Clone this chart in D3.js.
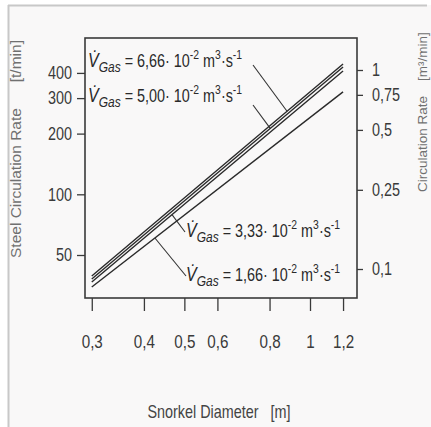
<!DOCTYPE html>
<html><head><meta charset="utf-8">
<script src="https://cdn.jsdelivr.net/npm/d3@7"></script>
<style>body{margin:0;background:#fff} text{white-space:pre}</style>
</head><body>
<script>
// ---- data ----
const diameters = [0.3, 1.2];
const rate666 = [39.3, 443];
const rate500 = [38.0, 428];
const rate333 = [36.7, 409];
const rate166 = [34.7, 322];
const gasLabels = ["6,66", "5,00", "3,33", "1,66"];
const pointerDiameters = [0.881, 0.803, 0.467, 0.425];
const xTicks = [0.3, 0.4, 0.5, 0.6, 0.8, 1, 1.2];
const xTickLabels = ["0,3", "0,4", "0,5", "0,6", "0,8", "1", "1,2"];
const yLeftTicks = [50, 100, 200, 300, 400];
const yRightTicks = [0.1, 0.25, 0.5, 0.75, 1];
const yRightTickLabels = ["0,1", "0,25", "0,5", "0,75", "1"];

const series = [rate666, rate500, rate333, rate166];

const W = 431, H = 427;
const L = 85, R = 357, T = 38, B = 298;
const SX = 0.8; // horizontal condensing of the narrow lettering
const font = "'Liberation Sans',Arial,sans-serif";
const svg = d3.select("body").append("svg").attr("width", W).attr("height", H)
  .style("display", "block");

svg.append("rect").attr("width", W).attr("height", H).attr("fill", "#fff");
svg.append("rect").attr("x", 8).attr("y", 5).attr("width", W - 8).attr("height", H - 5).attr("fill", "#f9f8f8");
svg.append("line").attr("x1", 8).attr("x2", W - 4).attr("y1", 5.5).attr("y2", 5.5).attr("stroke", "#c8c8c8").attr("stroke-width", 2);
svg.append("line").attr("x1", 8.5).attr("x2", 8.5).attr("y1", 5).attr("y2", H).attr("stroke", "#c8c8c8").attr("stroke-width", 2);

const x = d3.scaleLog().domain([0.289, 1.296]).range([L, R]);
const yL = d3.scaleLog().domain([30.6, 596]).range([B, T]);
const yR = d3.scaleLog().domain([0.0715, 1.448]).range([B, T]);

const tickCol = "#3a3a3a";
const gx = svg.append("g").attr("transform", `translate(0,${B})`)
  .call(d3.axisBottom(x).tickValues(xTicks).tickFormat((d, i) => xTickLabels[i]).tickSize(13).tickPadding(24));
const gl = svg.append("g").attr("transform", `translate(${L},0)`)
  .call(d3.axisLeft(yL).tickValues(yLeftTicks).tickFormat(d3.format("d")).tickSize(8).tickPadding(5));
const gr = svg.append("g").attr("transform", `translate(${R},0)`)
  .call(d3.axisRight(yR).tickValues(yRightTicks).tickFormat((d, i) => yRightTickLabels[i]).tickSize(6).tickPadding(9));
[gx, gl, gr].forEach(g => {
  g.select(".domain").remove();
  g.selectAll(".tick line").attr("stroke", tickCol).attr("stroke-width", 1.3);
  g.selectAll(".tick text").attr("fill", "#3a3a3a").style("font-family", font).style("font-size", "18px")
    .each(function () {
      const t = d3.select(this);
      const xx = +t.attr("x") || 0;
      t.attr("x", xx / SX).attr("transform", `scale(${SX},1)`);
    });
});
gx.selectAll(".tick text").style("font-size", "19px");

// frame
svg.append("rect").attr("x", L).attr("y", T).attr("width", R - L).attr("height", B - T)
  .attr("fill", "none").attr("stroke", "#3a3a3a").attr("stroke-width", 1.6);

// series lines
const line = d3.line().x((d, i) => x(diameters[i])).y(d => yL(d));
svg.selectAll("path.series").data(series).enter().append("path")
  .attr("class", "series").attr("d", d => line(d))
  .attr("fill", "none").attr("stroke", "#2a2a2a").attr("stroke-width", 1.4);

// annotations
const annotPos = [[88, 67, 165, -2], [88, 102, 165, 3], [186, 237, -1, -5], [186, 281, 0, -5]];
function valueAt(s, d) {
  const t = (Math.log(d) - Math.log(diameters[0])) / (Math.log(diameters[1]) - Math.log(diameters[0]));
  return Math.exp(Math.log(s[0]) + t * (Math.log(s[1]) - Math.log(s[0])));
}
gasLabels.forEach((lab, i) => {
  const [ax, ay, ox, oy] = annotPos[i];
  const pd = pointerDiameters[i];
  svg.append("line").attr("x1", ax + ox).attr("y1", ay + oy)
    .attr("x2", x(pd)).attr("y2", yL(valueAt(series[i], pd)))
    .attr("stroke", "#333").attr("stroke-width", 1.1);
  const t = svg.append("g").attr("transform", `translate(${ax},${ay}) scale(${SX},1)`)
    .append("text").attr("x", 0).attr("y", 0)
    .style("font-family", font).style("font-size", "18px").attr("fill", "#2a2a2a");
  t.append("tspan").style("font-style", "italic").style("font-size", "20px").text("V\u0307");
  t.append("tspan").style("font-style", "italic").style("font-size", "15px").attr("dy", 5).text("Gas");
  t.append("tspan").attr("dy", -5).text(" = " + lab + "\u00b7 10");
  t.append("tspan").attr("dy", -8).style("font-size", "13px").text("-2");
  t.append("tspan").attr("dy", 8).text(" m");
  t.append("tspan").attr("dy", -8).style("font-size", "13px").text("3");
  t.append("tspan").attr("dy", 8).text("\u00b7s");
  t.append("tspan").attr("dy", -8).style("font-size", "13px").text("-1");
});

// axis titles
svg.append("text").attr("transform", `translate(21,258) rotate(-90)`)
  .attr("text-anchor", "start").style("font-family", font)
  .style("font-size", "15.5px").attr("fill", "#707070")
  .text("Steel Circulation Rate      [t/min]");
svg.append("text").attr("transform", `translate(427,192) rotate(-90)`)
  .attr("text-anchor", "start").style("font-family", font)
  .style("font-size", "13.5px").attr("fill", "#707070")
  .text("Circulation Rate    [m\u00b3/min]");
svg.append("g").attr("transform", `translate(219,418) scale(${SX},1)`)
  .append("text").attr("x", 0).attr("y", 0).attr("text-anchor", "middle")
  .style("font-family", font).style("font-size", "18px").attr("fill", "#444")
  .text("Snorkel Diameter   [m]");
</script>
</body></html>
